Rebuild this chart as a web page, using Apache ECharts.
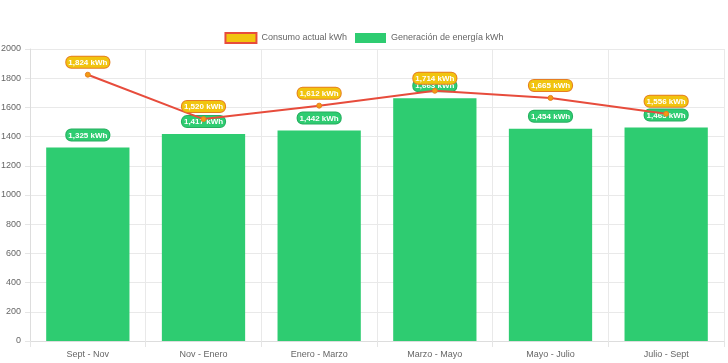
<!DOCTYPE html>
<html><head><meta charset="utf-8">
<script src="https://cdn.jsdelivr.net/npm/echarts@6/dist/echarts.min.js"></script>
<style>html,body{margin:0;padding:0;background:#fff}#c{width:728px;height:363px}</style>
</head><body><div id="c"></div>
<script>
const categories = ['Sept - Nov','Nov - Enero','Enero - Marzo','Marzo - Mayo','Mayo - Julio','Julio - Sept'];
const consumo = [1824, 1520, 1612, 1714, 1665, 1556];
const generacion = [1325, 1417, 1442, 1663, 1454, 1463];
const yTicks = {min: 0, max: 2000, interval: 200};
const seriesNames = ['Consumo actual kWh', 'Generación de energía kWh'];

const font = 'Liberation Sans, Arial, Helvetica, sans-serif';
const fmt = p => p.value.toLocaleString('en-US') + ' kWh';
const chart = echarts.init(document.getElementById('c'));
chart.setOption({
  animation: false,
  textStyle: {fontFamily: font},
  legend: {
    top: 27, left: 'center', itemWidth: 31, itemHeight: 10, itemGap: 8,
    textStyle: {color: '#666', fontSize: 9, fontFamily: font},
    data: [
      {name: seriesNames[0], icon: 'rect', itemStyle: {color: '#f1c40f', borderColor: '#e74c3c', borderWidth: 2}},
      {name: seriesNames[1], icon: 'rect', itemStyle: {color: '#2ecc71'}}
    ]
  },
  grid: {left: 30, right: 4, top: 49, bottom: 22, containLabel: false, outerBoundsMode: 'none'},
  xAxis: {
    type: 'category', data: categories, boundaryGap: true,
    axisLine: {lineStyle: {color: '#ddd'}},
    axisTick: {show: true, length: 6, lineStyle: {color: '#e5e5e5'}},
    splitLine: {show: true, lineStyle: {color: '#e9e9e9'}},
    axisLabel: {color: '#666', fontSize: 9, margin: 9, fontFamily: font}
  },
  yAxis: {
    type: 'value', min: yTicks.min, max: yTicks.max, interval: yTicks.interval,
    axisLine: {show: true, lineStyle: {color: '#ddd'}},
    axisTick: {show: true, length: 5, lineStyle: {color: '#e5e5e5'}},
    splitLine: {lineStyle: {color: '#e9e9e9'}},
    axisLabel: {color: '#666', fontSize: 9, margin: 9, fontFamily: font, formatter: v => String(v)}
  },
  series: [
    {
      name: seriesNames[1], type: 'bar', data: generacion, barWidth: '72%',
      itemStyle: {color: '#2ecc71'}, z: 2,
      label: {
        show: true, position: 'top', distance: 7, formatter: fmt,
        color: '#fff', fontWeight: 'bold', fontSize: 8, fontFamily: font,
        backgroundColor: '#2ecc71', borderColor: '#27ae60', borderWidth: 1,
        borderRadius: 5, padding: [2, 2, 1, 2]
      }
    },
    {
      name: seriesNames[0], type: 'line', data: consumo, z: 2,
      symbol: 'circle', symbolSize: 5,
      lineStyle: {color: '#e74c3c', width: 2},
      itemStyle: {color: '#f39c12', borderColor: '#e67e22', borderWidth: 1},
      label: {
        show: true, position: 'top', distance: 4, formatter: fmt,
        color: '#fff', fontWeight: 'bold', fontSize: 8, fontFamily: font,
        backgroundColor: '#f1c40f', borderColor: '#e67e22', borderWidth: 1,
        borderRadius: 5, padding: [2, 2, 1, 2]
      }
    }
  ]
});
</script></body></html>
